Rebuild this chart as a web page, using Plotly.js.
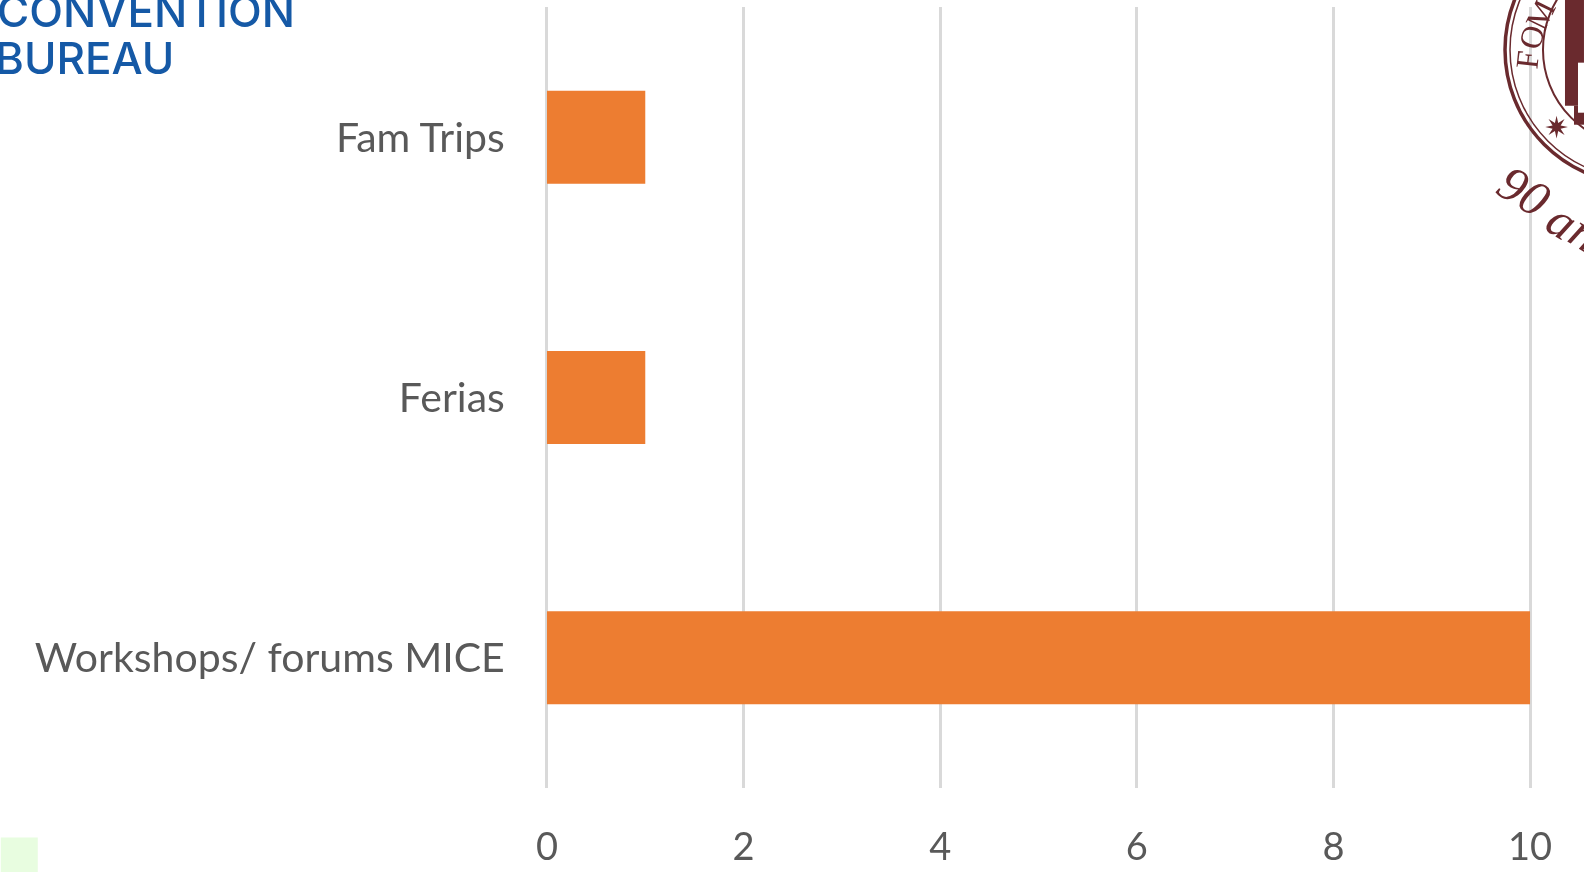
<!DOCTYPE html>
<html><head><meta charset="utf-8">
<script src="https://cdn.plot.ly/plotly-3.0.1.min.js"></script>
<style>html,body{margin:0;padding:0;background:#fff;overflow:hidden}#c{width:1584px;height:872px;filter:blur(0.5px)}</style>
</head><body><div id="c"></div>
<script>
const categories = ["Workshops/ forums MICE", "Ferias", "Fam Trips"];
const values = [10, 1, 1];
const xTicks = [0, 2, 4, 6, 8, 10];
const W = 1584, H = 872, L = 544.5, R = 52, T = 7.4, B = 84.4;
const pw = W - L - R, ph = H - T - B;
const px = x => (x - L) / pw, py = y => 1 - (y - T) / ph;
const maroon = "#6a2a2e";
const circ = (cx, cy, r, w) => ({type:"circle", xref:"paper", yref:"paper",
  x0:px(cx-r), x1:px(cx+r), y0:py(cy+r), y1:py(cy-r),
  line:{color:maroon, width:w}, fillcolor:"rgba(0,0,0,0)", layer:"above"});
const rect = (x0,y0,x1,y1,fill) => ({type:"rect", xref:"paper", yref:"paper",
  x0:px(x0), x1:px(x1), y0:py(y1), y1:py(y0), line:{width:0}, fillcolor:fill, layer:"above"});
const txt = (text,x,y,font,angle) => ({text, xref:"paper", yref:"paper",
  x:px(x), y:py(y), showarrow:false, xanchor:"center", yanchor:"middle", textangle:angle||0, font});
const logo = {size:44, color:"#1559a6", family:"Inter, 'Open Sans', sans-serif", weight:500};
const serif = {size:32, color:maroon, family:"Liberation Serif"};
const script = {size:50, color:maroon, family:"Liberation Serif", style:"italic"};
Plotly.newPlot("c", [{
  type:"bar", orientation:"h", y:categories, x:values,
  marker:{color:"#ed7d31", line:{width:0}}, hoverinfo:"skip"
}], {
  width:W, height:H, showlegend:false, bargap:0.643,
  paper_bgcolor:"#fff", plot_bgcolor:"#fff",
  margin:{l:L, r:R, t:T, b:B, pad:0},
  font:{family:"Lato, sans-serif", color:"#595959"},
  xaxis:{range:[-0.02,10.02], tickvals:xTicks, ticktext:xTicks.map(String), showgrid:true, gridcolor:"#d9d9d9", gridwidth:3,
    zeroline:false, showline:false, ticks:"outside", ticklen:25, tickcolor:"rgba(0,0,0,0)", tickfont:{size:38, color:"#595959", family:"Lato, sans-serif"}},
  yaxis:{type:"category", categoryorder:"array", categoryarray:categories, showgrid:false, zeroline:false, showline:false,
    ticks:"outside", ticklen:31, tickcolor:"rgba(0,0,0,0)", tickfont:{size:41, color:"#595959", family:"Lato, sans-serif"}},
  shapes:[
    rect(0,837,37,872,"#e8fde0"),
    circ(1639,50,134,3.5), circ(1639,50,129,1.5),
    circ(1639,50,96,2),
    rect(1565,-5,1584,106,maroon),
    rect(1574,106,1584,125,maroon),
    rect(1578,63,1584,113,"#ffffff")
  ],
  annotations:[
    txt("CONVENTION",145,11,logo),
    txt("BUREAU",84,58,logo),
    txt("F",1527,60,serif,-84),
    txt("O",1531,38,serif,-74),
    txt("M",1540,15,serif,-64),
    txt("✷",1557,128,{size:30,color:maroon,family:"DejaVu Sans"}),
    txt("90",1524,191,script,32),
    txt("a",1563,221,script,32),
    txt("ñ",1586,233,script,32)
  ]
}, {displayModeBar:false, staticPlot:true});
</script></body></html>
